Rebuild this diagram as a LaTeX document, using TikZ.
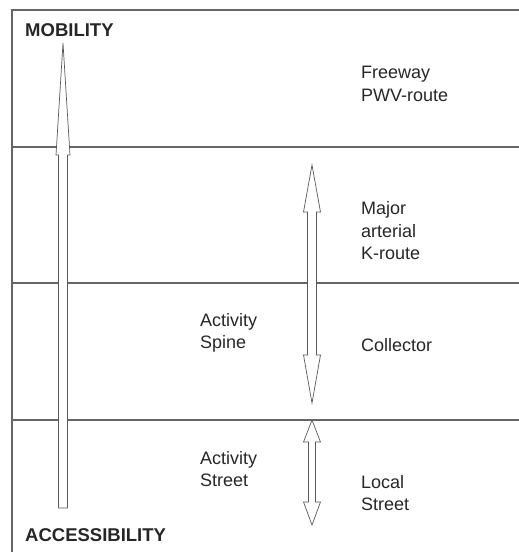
\documentclass[tikz,border=0pt]{standalone}
\usepackage{fontspec}
\setmainfont{Liberation Sans}
\begin{document}
\begin{tikzpicture}[x=1pt,y=-1pt,
  rule/.style={draw=black!60, line width=1.3pt},
  hollow/.style={draw=black!65, line width=0.7pt, fill=white, line join=miter},
  label/.style={inner sep=0pt, anchor=west, align=left, text=black!85,
    font=\fontsize{18}{22.5}\selectfont},
  heading/.style={inner sep=0pt, anchor=west, text=black!85,
    font=\fontsize{18.5}{22}\selectfont\bfseries}]
  \useasboundingbox (0,0) rectangle (519,552);

  % frame and class boundaries
  \draw[rule] (12,552) -- (12,10) -- (519,10);
  \draw[rule] (12,147) -- (519,147);
  \draw[rule] (12,283) -- (519,283);
  \draw[rule] (12,420) -- (519,420);

  % long arrow: accessibility up to mobility
  \draw[hollow] (58.5,508) -- (58.5,155) -- (56,155) -- (63,43) -- (70,155)
    -- (67.5,155) -- (67.5,508) -- cycle;

  % arterial range (double-headed)
  \draw[hollow] (312,165) -- (320.5,212) -- (316.5,212) -- (316.5,355)
    -- (320.5,355) -- (312,403) -- (303.5,355) -- (307.5,355) -- (307.5,212)
    -- (303.5,212) -- cycle;

  % local range (double-headed)
  \draw[hollow] (312,420) -- (320.5,442) -- (315.5,442) -- (315.5,502)
    -- (320.5,502) -- (312,525) -- (303.5,502) -- (308.5,502) -- (308.5,442)
    -- (303.5,442) -- cycle;

  % headings
  \node[heading] (mob) at (25,30) {MOBILITY};
  \node[heading] (acc) at (25,535) {ACCESSIBILITY};

  % road classes
  \node[label] (freeway) at (361,84) {Freeway\\PWV-route};
  \node[label] (major) at (361,231) {Major\\arterial\\K-route};
  \node[label] (coll) at (361,345) {Collector};
  \node[label] (local) at (361,493) {Local\\Street};

  % activity types
  \node[label] (spine) at (200,333) {Activity\\Spine};
  \node[label] (street) at (200,469) {Activity\\Street};
\end{tikzpicture}
\end{document}
